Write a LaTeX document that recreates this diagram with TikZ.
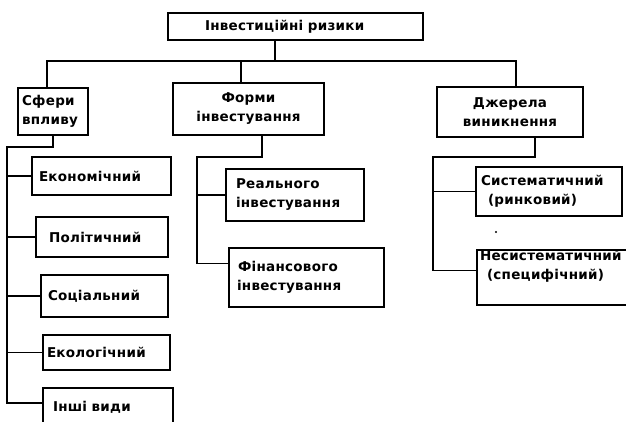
\documentclass[tikz,border=0pt]{standalone}
\usepackage{fontspec}
\setmainfont{DejaVu Sans}[LetterSpace=2]
\begin{document}
\begin{tikzpicture}[x=1pt,y=-1pt,
  box/.style={draw, line width=1.2pt, inner sep=0pt, align=left,
    font=\fontsize{13.5}{19}\selectfont\bfseries},
  cbox/.style={box, align=center},
  conn/.style={line width=1.1pt}]
\useasboundingbox (0,0) rectangle (626,421);
% top
\node[box, minimum width=255pt, minimum height=27pt, text width=255pt] (top) at (295.5,26.5) {\hspace*{37pt}Інвестиційні ризики};
% level 2
\node[box, minimum width=70pt, minimum height=47pt, text width=70pt] (sfery) at (53,111.5) {\hspace*{4pt}Сфери\\\hspace*{4pt}впливу};
\node[cbox, minimum width=151pt, minimum height=52pt, text width=151pt] (formy) at (248.5,109) {Форми\\інвестування};
\node[cbox, minimum width=146pt, minimum height=50pt, text width=146pt] (dzh) at (510,112) {Джерела\\виникнення};
% left column
\node[box, minimum width=139pt, minimum height=38pt, text width=139pt] (econ) at (101.5,176) {\hspace*{7pt}Економічний};
\node[box, minimum width=132pt, minimum height=40pt, text width=132pt] (polit) at (102,237) {\hspace*{13pt}Політичний};
\node[box, minimum width=127pt, minimum height=42pt, text width=127pt] (soc) at (104.5,296) {\hspace*{7pt}Соціальний};
\node[box, minimum width=127pt, minimum height=35pt, text width=127pt] (ecol) at (106.5,352.5) {\hspace*{4pt}Екологічний};
\node[box, minimum width=130pt, minimum height=38pt, text width=130pt] (inshi) at (108,407) {\hspace*{10pt}Інші види};
% middle column
\node[box, minimum width=138pt, minimum height=52pt, text width=138pt] (real) at (295,195) {\hspace*{10pt}Реального\\\hspace*{10pt}інвестування};
\node[box, minimum width=155pt, minimum height=59pt, text width=155pt] (fin) at (306.5,277.5) {\hspace*{9pt}Фінансового\\\hspace*{8pt}інвестування};
% right column
\node[box, minimum width=146pt, minimum height=49pt, text width=146pt] (sys) at (549,191.5) {\hspace*{5pt}Систематичний\\\hspace*{12pt}(ринковий)};
\node[box, minimum width=163pt, minimum height=55pt, text width=163pt] (nesys) at (558.5,277.5) {\hspace*{3pt}Несистематичний\\\hspace*{10pt}(специфічний)\\\strut};
\fill (496,232) circle (1.2pt);
% top-level connectors
\coordinate (tj) at (275,61);
\coordinate (bl) at (47,61);
\coordinate (fj) at (241,61);
\coordinate (dj) at (516,61);
\draw[conn] (tj |- top.south) -- (tj);
\draw[conn] (bl |- sfery.north) -- (bl) -- (dj) -- (dj |- dzh.north);
\draw[conn] (fj) -- (fj |- formy.north);
% left spine
\coordinate (la) at (53,147);
\coordinate (lb) at (7,147);
\draw[conn] (la |- sfery.south) -- (la) -- (lb) |- ([yshift=4pt]inshi.west);
\foreach \n in {econ,polit,soc,ecol} \draw[conn] (lb) |- (\n.west);
% middle spine
\coordinate (fa) at (262,157);
\coordinate (fb) at (197,157);
\draw[conn] (fa |- formy.south) -- (fa) -- (fb) |- ([yshift=14pt]fin.west);
\draw[conn] (fb) |- (real.west);
% right spine
\coordinate (da) at (535,157);
\coordinate (db) at (433,157);
\draw[conn] (da |- dzh.south) -- (da) -- (db) |- ([yshift=7pt]nesys.west);
\draw[conn] (db) |- (sys.west);
\end{tikzpicture}
\end{document}
